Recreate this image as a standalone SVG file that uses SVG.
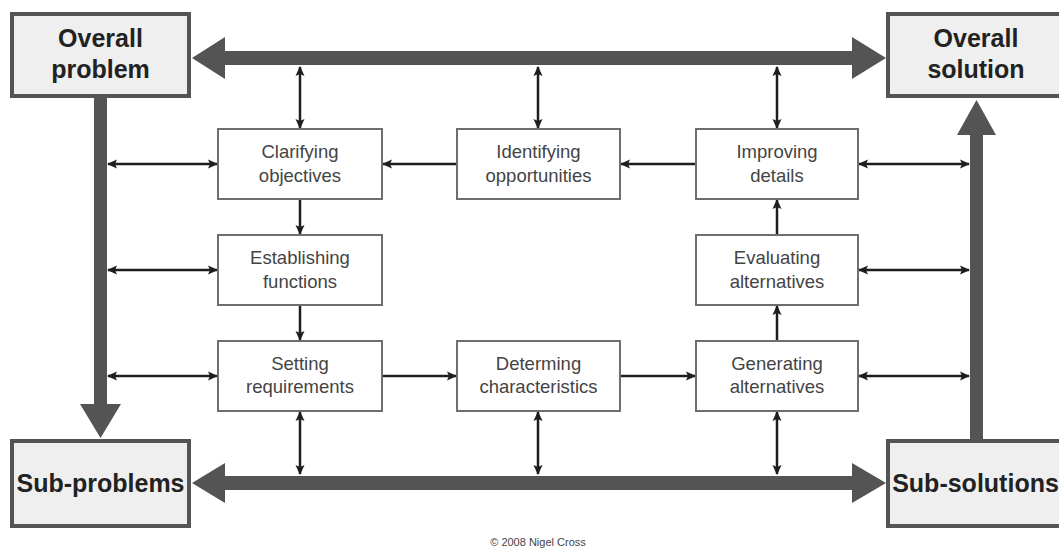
<svg xmlns="http://www.w3.org/2000/svg" width="1059" height="549" viewBox="0 0 1059 549">
<style>
.outer{fill:#efefef;stroke:#545454;stroke-width:4}
.inner{fill:#ffffff;stroke:#6e6e6e;stroke-width:2}
.bt{font-family:"Liberation Sans",Arial,sans-serif;font-weight:bold;font-size:25px;fill:#222;text-anchor:middle}
.it{font-family:"Liberation Sans",Arial,sans-serif;font-size:18.5px;fill:#444;text-anchor:middle}
.thick{fill:#545454}
.thin{stroke:#1e1e1e;stroke-width:2.5;fill:none}
.two{marker-start:url(#ah);marker-end:url(#ah)}
.one{marker-end:url(#ah)}
</style>
<defs>
<marker id="ah" markerUnits="userSpaceOnUse" markerWidth="10" markerHeight="10" refX="9" refY="5" orient="auto-start-reverse">
<path d="M0,0.5 L10,5 L0,9.5 L2,5 z" fill="#1e1e1e"/>
</marker>
</defs>
<rect width="1059" height="549" fill="#ffffff"/>
<g id="connectors">
<polygon class="thick" points="192,58 225,37 225,51 852,51 852,37 886,58 852,79 852,65 225,65 225,79"/>
<polygon class="thick" points="192,483 225,463 225,476 852,476 852,463 886,483 852,503 852,490 225,490 225,503"/>
<polygon class="thick" points="94,98 107,98 107,404 121,404 100.5,438 80,404 94,404"/>
<polygon class="thick" points="970,439 983,439 983,135 996,135 976.5,100 957,135 970,135"/>
<line class="thin two" x1="300" y1="67" x2="300" y2="128"/>
<line class="thin two" x1="538" y1="67" x2="538" y2="128"/>
<line class="thin two" x1="777" y1="67" x2="777" y2="128"/>
<line class="thin two" x1="300" y1="412" x2="300" y2="474"/>
<line class="thin two" x1="538" y1="412" x2="538" y2="474"/>
<line class="thin two" x1="777" y1="412" x2="777" y2="474"/>
<line class="thin two" x1="108" y1="164" x2="217" y2="164"/>
<line class="thin two" x1="108" y1="270" x2="217" y2="270"/>
<line class="thin two" x1="108" y1="376" x2="217" y2="376"/>
<line class="thin two" x1="859" y1="164" x2="969" y2="164"/>
<line class="thin two" x1="859" y1="270" x2="969" y2="270"/>
<line class="thin two" x1="859" y1="376" x2="969" y2="376"/>
<line class="thin one" x1="457" y1="164" x2="383" y2="164"/>
<line class="thin one" x1="696" y1="164" x2="621" y2="164"/>
<line class="thin one" x1="300" y1="199" x2="300" y2="234"/>
<line class="thin one" x1="300" y1="305" x2="300" y2="340"/>
<line class="thin one" x1="382" y1="376" x2="456" y2="376"/>
<line class="thin one" x1="620" y1="376" x2="695" y2="376"/>
<line class="thin one" x1="777" y1="341" x2="777" y2="306"/>
<line class="thin one" x1="777" y1="235" x2="777" y2="200"/>
</g>
<g id="overall-problem"><rect class="outer" x="12" y="14" width="177" height="82"/><text class="bt" x="100.5" y="47">Overall</text><text class="bt" x="100.5" y="78">problem</text></g>
<g id="overall-solution"><rect class="outer" x="888" y="14" width="177" height="82"/><text class="bt" x="976" y="47">Overall</text><text class="bt" x="976" y="78">solution</text></g>
<g id="sub-problems"><rect class="outer" x="12" y="441" width="177" height="85"/><text class="bt" x="100.5" y="492">Sub-problems</text></g>
<g id="sub-solutions"><rect class="outer" x="888" y="441" width="177" height="85"/><text class="bt" x="975.5" y="492">Sub-solutions</text></g>
<g id="clarifying-objectives"><rect class="inner" x="218" y="129" width="164" height="70"/><text class="it" x="300" y="158">Clarifying</text><text class="it" x="300" y="182">objectives</text></g>
<g id="identifying-opportunities"><rect class="inner" x="457" y="129" width="163" height="70"/><text class="it" x="538.5" y="158">Identifying</text><text class="it" x="538.5" y="182">opportunities</text></g>
<g id="improving-details"><rect class="inner" x="696" y="129" width="162" height="70"/><text class="it" x="777" y="158">Improving</text><text class="it" x="777" y="182">details</text></g>
<g id="establishing-functions"><rect class="inner" x="218" y="235" width="164" height="70"/><text class="it" x="300" y="264">Establishing</text><text class="it" x="300" y="288">functions</text></g>
<g id="evaluating-alternatives"><rect class="inner" x="696" y="235" width="162" height="70"/><text class="it" x="777" y="264">Evaluating</text><text class="it" x="777" y="288">alternatives</text></g>
<g id="setting-requirements"><rect class="inner" x="218" y="341" width="164" height="70"/><text class="it" x="300" y="370">Setting</text><text class="it" x="300" y="393">requirements</text></g>
<g id="determing-characteristics"><rect class="inner" x="457" y="341" width="163" height="70"/><text class="it" x="538.5" y="370">Determing</text><text class="it" x="538.5" y="393">characteristics</text></g>
<g id="generating-alternatives"><rect class="inner" x="696" y="341" width="162" height="70"/><text class="it" x="777" y="370">Generating</text><text class="it" x="777" y="393">alternatives</text></g>
<text x="538" y="546" font-family="'Liberation Sans',Arial,sans-serif" font-size="11" fill="#444" text-anchor="middle">© 2008 Nigel Cross</text>
</svg>
